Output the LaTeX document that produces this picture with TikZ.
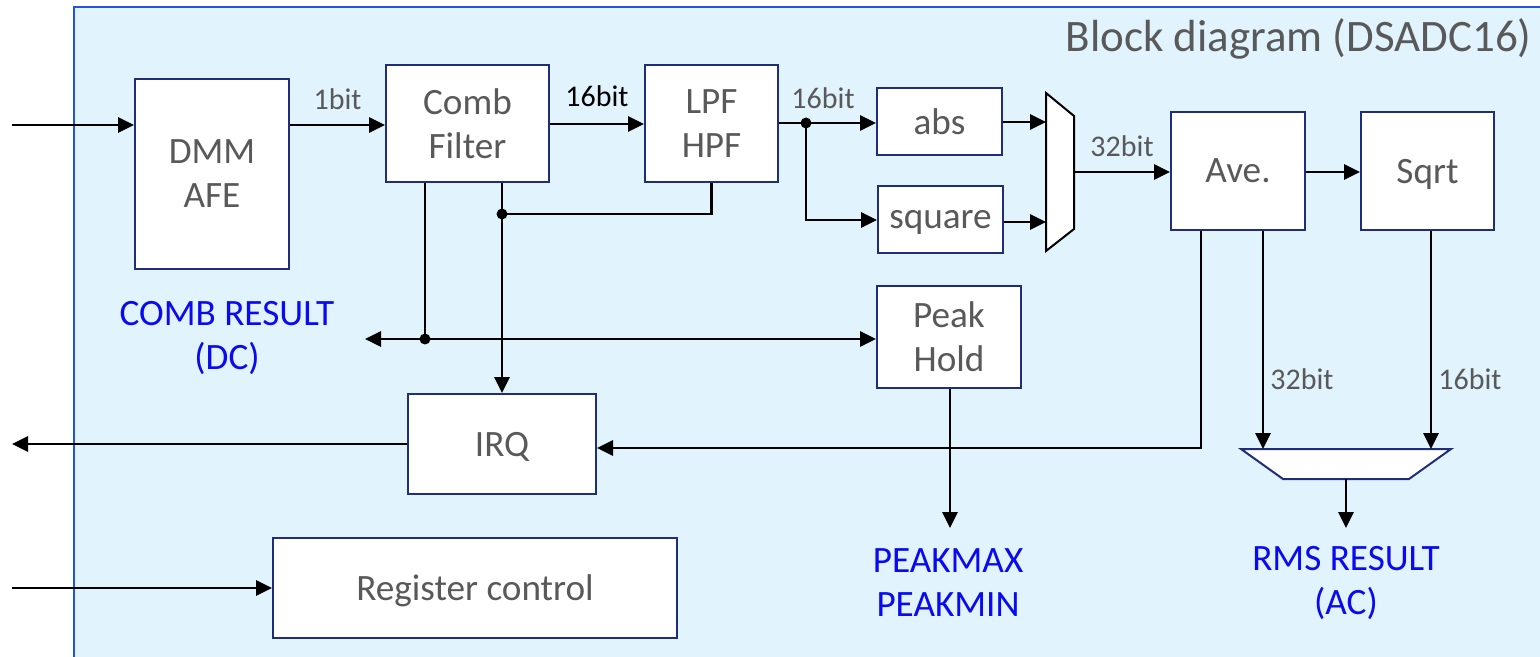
\documentclass[tikz,border=0pt]{standalone}
\usepackage{fontspec}
\setmainfont{Carlito}
\usetikzlibrary{arrows.meta}
\definecolor{bgblue}{RGB}{225,243,252}
\definecolor{frameblue}{RGB}{34,85,221}
\definecolor{boxline}{RGB}{31,45,122}
\definecolor{txtgrey}{RGB}{89,89,89}
\definecolor{resblue}{RGB}{10,10,240}
\begin{document}
\begin{tikzpicture}[x=0.5pt,y=-0.5pt,
  blk/.style={draw=boxline,line width=1pt,fill=white,inner sep=0pt,align=center,text=txtgrey,font=\fontsize{18.6pt}{22pt}\selectfont},
  oneline/.style={blk,text depth=0pt},
  wire/.style={line width=1.4pt,draw=black},
  arr/.style={wire,-{Triangle[length=8pt,width=7.5pt]}},
  bits/.style={text=txtgrey,font=\fontsize{15pt}{17pt}\selectfont,inner sep=0pt},
  result/.style={text=resblue,align=center,font=\fontsize{18.6pt}{22pt}\selectfont,inner sep=0pt},
  dot/.style={circle,fill=black,inner sep=0pt,minimum size=5.5pt}]
\useasboundingbox (0,0) rectangle (1540,657);
\clip (0,0) rectangle (1540,657);
\draw[fill=bgblue,draw=frameblue,line width=1.2pt] (74,7) rectangle (1570,690);
\node[anchor=east,text=txtgrey,font=\fontsize{22.5pt}{26pt}\selectfont,inner sep=0pt] (title) at (1532,39) {Block diagram (DSADC16)};
% blocks (minimum sizes in pt = half the pixel size)
\node[blk,minimum width=77pt,minimum height=95pt] (dmm) at (212,174) {DMM\\AFE};
\node[blk,minimum width=81.5pt,minimum height=58.5pt] (comb) at (467.5,123.5) {Comb\\Filter};
\node[blk,minimum width=66.5pt,minimum height=58.5pt] (lpf) at (711.5,123.5) {LPF\\HPF};
\node[oneline,minimum width=62.5pt,minimum height=33.5pt] (abs) at (939.5,121.5) {abs};
\node[oneline,minimum width=62.5pt,minimum height=33.5pt] (sq) at (940.5,219.5) {square};
\node[oneline,minimum width=67pt,minimum height=59pt] (ave) at (1238,171) {Ave.};
\node[oneline,minimum width=66.5pt,minimum height=59pt] (sqrt) at (1427.5,171) {Sqrt};
\node[blk,minimum width=72pt,minimum height=51pt] (peak) at (949,337) {Peak\\Hold};
\node[oneline,minimum width=94pt,minimum height=50pt] (irq) at (502,444) {IRQ};
\node[oneline,minimum width=202pt,minimum height=50pt] (reg) at (475,588) {Register control};
% mux shapes
\draw[draw=black,line width=1pt,fill=white] (1046,93) -- (1074,116) -- (1074,229) -- (1046,251) -- cycle;
\coordinate (muxa) at (1046,122);
\coordinate (muxb) at (1046,222);
\coordinate (muxo) at (1074,172);
\draw[draw=boxline,line width=1pt,fill=white] (1241,449) -- (1451,449) -- (1409,479) -- (1283,479) -- cycle;
\coordinate (rmsa) at (1263,449);
\coordinate (rmsb) at (1431,449);
\coordinate (rmso) at (1346,479);
% results
\node[result] (combres) at (227,338) {COMB RESULT\\(DC)};
\node[result] (peakres) at (948,583) {PEAKMAX\\PEAKMIN};
\node[result] (rmsres) at (1346,583) {RMS RESULT\\(AC)};
% external ends
\coordinate (in1) at (12,125);
\coordinate (in2) at (12,588);
\coordinate (out1) at (12,444);
\coordinate (cdl) at (365,339);
\coordinate (peakend) at (950,528);
\coordinate (rmsend) at (1346,528);
% junctions
\coordinate (j1) at (806,123);
\coordinate (j2) at (502,214);
\coordinate (j3) at (425,339);
% wires
\draw[arr] (in1) -- (dmm.west |- in1);
\draw[arr] (dmm.east |- in1) -- (comb.west |- in1) node[bits,midway,above=7pt] {1bit};
\draw[arr] (comb.east |- 0,124) -- (lpf.west |- 0,124) node[bits,midway,above=8pt,text=black] {16bit};
\draw[wire] (lpf.east |- j1) -- (j1);
\node[bits,above=7pt] at (823,123) {16bit};
\draw[arr] (j1) -- (abs.west |- j1);
\draw[arr] (j1) |- (sq.west |- 0,220);
\draw[arr] (abs.east |- muxa) -- (muxa);
\draw[arr] (sq.east |- muxb) -- (muxb);
\draw[arr] (muxo) -- (ave.west |- muxo) node[bits,midway,above=7pt] {32bit};
\draw[arr] (ave.east |- muxo) -- (sqrt.west |- muxo);
\draw[wire] (lpf.south) -- (lpf.south |- j2) -- (j2);
\draw[arr] (comb.south -| j2) -- (irq.north -| j2);
\draw[wire] (comb.south -| j3) -- (j3);
\draw[arr] (j3) -- (cdl);
\draw[arr] (j3) -- (peak.west |- j3);
\draw[arr] (peak.south -| peakend) -- (peakend);
\draw[arr] (ave.south -| 1201,0) |- (irq.east |- 0,448);
\draw[arr] (irq.west |- out1) -- (out1);
\draw[arr] (in2) -- (reg.west |- in2);
\draw[arr] (ave.south -| rmsa) -- (rmsa) node[bits,pos=0.68,anchor=west,xshift=3pt] {32bit};
\draw[arr] (sqrt.south -| rmsb) -- (rmsb) node[bits,pos=0.68,anchor=west,xshift=3pt] {16bit};
\draw[arr] (rmso) -- (rmsend);
\node[dot] at (j1) {};
\node[dot] at (j2) {};
\node[dot] at (j3) {};
\end{tikzpicture}
\end{document}
